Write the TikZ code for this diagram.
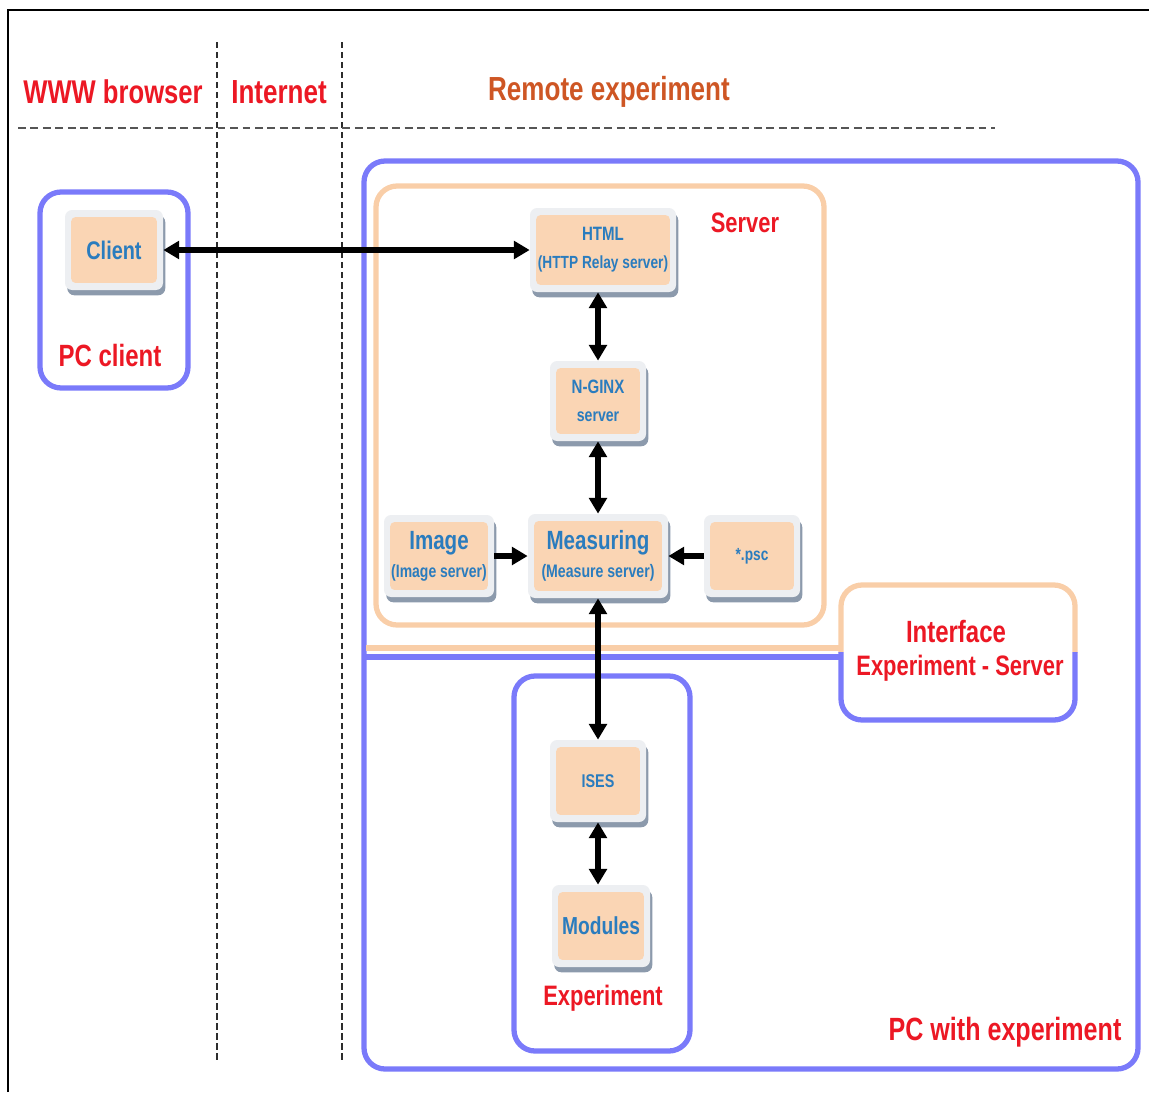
\documentclass[tikz,border=0pt]{standalone}
\usepackage{fontspec}
\newfontfamily\narrowsans{Liberation Sans}[FakeStretch=0.78]
\usetikzlibrary{arrows.meta,shadows}

\definecolor{blueline}{RGB}{122,122,250}
\definecolor{orangeline}{RGB}{249,206,168}
\definecolor{peach}{RGB}{250,213,180}
\definecolor{shell}{RGB}{237,239,242}
\definecolor{shadowcol}{RGB}{140,154,172}
\definecolor{textblue}{RGB}{42,124,190}
\definecolor{labelred}{RGB}{236,24,36}
\definecolor{remotecol}{RGB}{206,86,36}
\definecolor{dashdark}{RGB}{45,45,45}
\definecolor{dashgray}{RGB}{85,85,85}

\newcommand\fsz[2]{\fontsize{#1}{#2}\selectfont}

\tikzset{
  grp/.style={line width=3pt, rounded corners=12pt},
  bluegrp/.style={grp, draw=blueline},
  orangegrp/.style={grp, draw=orangeline},
  blk/.style 2 args={
    fill=shell, rounded corners=4pt, inner sep=0pt, align=center,
    minimum width=#1*0.02cm, minimum height=#2*0.02cm,
    text=textblue,
    drop shadow={shadow xshift=1.3pt, shadow yshift=-3pt, fill=shadowcol, opacity=1},
    path picture={
      \fill[peach, rounded corners=2.5pt]
        ([xshift=3.5pt,yshift=-4pt]path picture bounding box.north west) rectangle
        ([xshift=-3.5pt,yshift=4pt]path picture bounding box.south east);
    }
  },
  lbl/.style={text=labelred, inner sep=0pt, align=center},
  tip/.tip={Triangle[length=9pt,width=10pt]},
  link/.style={line width=3pt, tip-tip},
  oneway/.style={line width=3pt, -tip},
  vsep/.style={dashdark, line width=1.7pt, dash pattern=on 3.5pt off 2.2pt},
  hsep/.style={dashgray, line width=1.7pt, dash pattern=on 4.5pt off 2.6pt}
}

\begin{document}
\begin{tikzpicture}[x=0.02cm, y=-0.02cm, font=\narrowsans\bfseries]
\useasboundingbox (0,0) rectangle (1149,1092);

% outer frame (left and top edges)
\draw[black, line width=1.1pt] (8,1092) -- (8,10) -- (1149,10);

% column separators
\draw[vsep] (217,42) -- (217,1060);
\draw[vsep] (342,42) -- (342,1060);
\draw[hsep] (18,128) -- (995,128);

% column headings
\node[lbl, font=\narrowsans\bfseries\fsz{18.7}{20}] (hbrowser) at (113,92) {WWW browser};
\node[lbl, font=\narrowsans\bfseries\fsz{19}{20}] (hinternet) at (279,92) {Internet};
\node[lbl, text=remotecol, font=\narrowsans\bfseries\fsz{19}{20}] (hremote) at (609,92) {Remote experiment};

% group frames
\draw[bluegrp] (40,192) rectangle (188,388);
\draw[bluegrp] (364,161) rectangle (1138,1069);
\draw[orangegrp] (376,186) rectangle (824,625);
\draw[bluegrp] (514,676) rectangle (690,1051);

% interface box: upper half orange, lower half blue
\begin{scope}
  \clip (830,570) rectangle (1090,652);
  \draw[orangegrp, fill=white] (841,585) rectangle (1075,720);
\end{scope}
\begin{scope}
  \clip (830,652) rectangle (1090,735);
  \draw[bluegrp, fill=white] (841,585) rectangle (1075,720);
\end{scope}
\draw[orangeline, line width=3.2pt] (366,648) -- (843,648);
\draw[blueline, line width=3pt] (366,657) -- (843,657);

% group labels
\node[lbl, font=\narrowsans\bfseries\fsz{17.5}{20}] (lpc) at (110,356) {PC client};
\node[lbl, font=\narrowsans\bfseries\fsz{16}{20}] (lserver) at (745,223) {Server};
\node[lbl, font=\narrowsans\bfseries\fsz{17.5}{20.5}] (linterface) at (956,632) {Interface};
\node[lbl, font=\narrowsans\bfseries\fsz{16}{20.5}] (linterface2) at (960,668) {Experiment - Server};
\node[lbl, font=\narrowsans\bfseries\fsz{16}{20}] (lexp) at (603,998) {Experiment};
\node[lbl, font=\narrowsans\bfseries\fsz{18.3}{20}] (lpcexp) at (1005,1032) {PC with experiment};

% components
\node[blk={98}{80}, font=\narrowsans\bfseries\fsz{14.5}{16}] (client) at (114,250) {Client};
\node[blk={146}{84}, font=\narrowsans\bfseries\fsz{11}{16}] (html) at (603,250) {HTML\\{\fsz{10}{16}(HTTP Relay server)}};
\node[blk={96}{80}, font=\narrowsans\bfseries\fsz{11}{16}] (nginx) at (598,401) {N-GINX\\{\fsz{10.3}{16}server}};
\node[blk={110}{82}, font=\narrowsans\bfseries\fsz{15}{16}] (image) at (439,556) {Image\\{\fsz{10.2}{16}(Image server)}};
\node[blk={140}{84}, font=\narrowsans\bfseries\fsz{15}{16}] (meas) at (598,556) {Measuring\\{\fsz{10.3}{16}(Measure server)}};
\node[blk={96}{82}, font=\narrowsans\bfseries\fsz{10}{12}] (psc) at (752,556) {*.psc};
\node[blk={96}{82}, font=\narrowsans\bfseries\fsz{10.5}{12}] (ises) at (598,781) {ISES};
\node[blk={98}{82}, font=\narrowsans\bfseries\fsz{14}{16}] (modules) at (601,926) {Modules};

% connections
\draw[link] (client.east) -- (html.west);
\draw[link] (nginx.north |- html.south) -- (nginx.north);
\draw[link] (nginx.south) -- (meas.north);
\draw[oneway] (image.east) -- (meas.west);
\draw[oneway] (psc.west) -- (meas.east);
\draw[link] (meas.south) -- (ises.north);
\draw[link] (ises.south) -- (ises.south |- modules.north);
\end{tikzpicture}
\end{document}
